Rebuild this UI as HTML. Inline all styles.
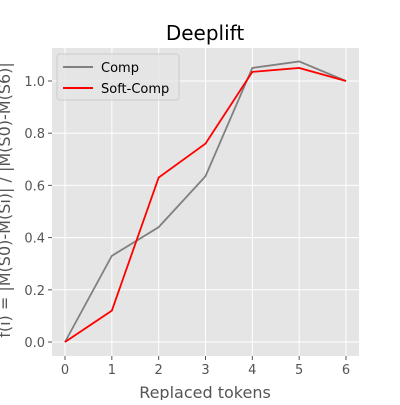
<!DOCTYPE html>
<html><head><meta charset="utf-8"><style>
body{margin:0;background:#fff;width:400px;height:400px;overflow:hidden}
svg{font-family:"DejaVu Sans","Liberation Sans",sans-serif}
</style></head><body>
<svg id="chart" width="400" height="400">
<rect x="52" y="48" width="307" height="308" fill="#e5e5e5"/>
<g id="grid"></g><g id="ticks"></g><g id="series"></g>
<text x="205" y="40" font-size="20" text-anchor="middle" fill="#000">Deeplift</text>
<text x="205" y="398" font-size="16" text-anchor="middle" fill="#555">Replaced tokens</text>
<text transform="translate(10,200) rotate(-90)" font-size="16" text-anchor="middle" fill="#555">f(i) = |M(S0)-M(Si)| / |M(S0)-M(S6)|</text>
<g>
<rect x="57" y="54" width="122" height="46" rx="3" fill="#e5e5e5" stroke="#ccc" fill-opacity="0.8"/>
<line x1="63" y1="67" x2="93" y2="67" stroke="#808080" stroke-width="2"/>
<text x="101" y="72" font-size="13" fill="#000">Comp</text>
<line x1="63" y1="88" x2="93" y2="88" stroke="#ff0000" stroke-width="2"/>
<text x="101" y="93" font-size="13" fill="#000">Soft-Comp</text>
</g>
</svg>
<script>
const categories=[0,1,2,3,4,5,6];
const comp=[0,0.33,0.44,0.635,1.05,1.075,1.0];
const softComp=[0,0.12,0.63,0.76,1.035,1.05,1.0];
const yTicks=[0,0.2,0.4,0.6,0.8,1.0];
const yTickLabels=["0.0","0.2","0.4","0.6","0.8","1.0"];
const NS="http://www.w3.org/2000/svg";
function xs(v){return 65+v*46.83;}
function ys(v){return 342-v*261;}
function mk(t,a,p){const e=document.createElementNS(NS,t);for(const k in a)e.setAttribute(k,a[k]);p.appendChild(e);return e;}
const grid=document.getElementById('grid'),ticks=document.getElementById('ticks'),ser=document.getElementById('series');
categories.forEach(c=>{
 const g=mk('line',{x1:xs(c),x2:xs(c),y1:48,y2:356,stroke:'#fff','stroke-width':1},grid);
 
 
 const t=mk('line',{x1:xs(c),x2:xs(c),y1:356,y2:360,stroke:'#555'},ticks);
 
 
 const l=mk('text',{x:xs(c),y:374,'font-size':13,'text-anchor':'middle',fill:'#555'},ticks);
 l.textContent=c;
 
 
});
yTicks.forEach((v,i)=>{
 const g=mk('line',{x1:52,x2:359,y1:ys(v),y2:ys(v),stroke:'#fff','stroke-width':1},grid);
 
 
 const t=mk('line',{x1:48,x2:52,y1:ys(v),y2:ys(v),stroke:'#555'},ticks);
 
 
 const l=mk('text',{x:45,y:ys(v)+5,'font-size':13,'text-anchor':'end',fill:'#555'},ticks);
 l.textContent=yTickLabels[i];
 
 
});
function line(d,color,name){
 const p=mk('polyline',{points:d.map((v,i)=>xs(categories[i])+','+ys(v)).join(' '),fill:'none',stroke:color,'stroke-width':1.8},ser);
 
 
}
line(comp,'#808080','comp-line');
line(softComp,'#ff0000','soft-comp-line');
</script>
</body></html>
